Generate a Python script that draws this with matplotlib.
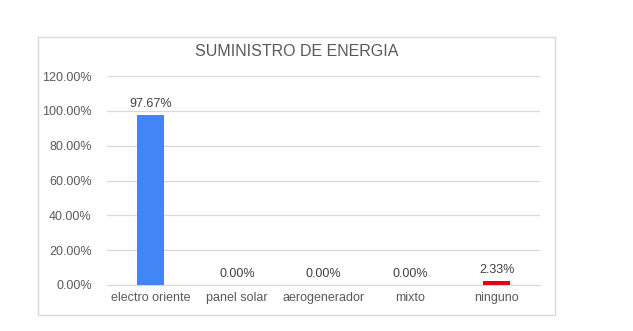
import numpy as np
import matplotlib
matplotlib.use("Agg")
import matplotlib.pyplot as plt
from matplotlib.patches import Rectangle
from matplotlib.ticker import FuncFormatter

plt.rcParams['font.family'] = ['Liberation Sans', 'DejaVu Sans']

categories = ['electro oriente', 'panel solar', 'aerogenerador', 'mixto', 'ninguno']
values = [0.9767, 0.0, 0.0, 0.0, 0.0233]
colors = ['#4285F4', '#4285F4', '#4285F4', '#4285F4', '#E8000B']

fig = plt.figure(figsize=(6.33, 3.31), dpi=100)
# chart border
fig.patches.append(Rectangle((0.06, 0.048), 0.817, 0.84, transform=fig.transFigure,
                             fill=False, edgecolor='#d9d9d9', linewidth=1))

ax = fig.add_axes([0.169, 0.139, 0.684, 0.631])
x = np.arange(len(categories))
bars = ax.bar(x, values, width=0.31, color=colors, zorder=3)

for xi, v in zip(x, values):
    ax.text(xi, v + 0.03, f'{v * 100:.2f}%', ha='center', va='bottom',
            fontsize=9, color='#404040')

ax.set_ylim(0, 1.2)
ax.set_xlim(-0.5, len(categories) - 0.5)
ax.set_yticks(np.arange(0, 1.21, 0.2))
ax.yaxis.set_major_formatter(FuncFormatter(lambda v, p: f'{v * 100:.2f}%'))
ax.set_xticks(x)
ax.set_xticklabels(categories)
ax.tick_params(axis='both', length=0, labelsize=9, labelcolor='#595959')
ax.tick_params(axis='y', pad=11)
ax.tick_params(axis='x', pad=5)
ax.grid(axis='y', color='#d9d9d9', linewidth=0.9, zorder=0)
for s in ['top', 'right', 'left']:
    ax.spines[s].set_visible(False)
ax.spines['bottom'].set_color('#d9d9d9')

fig.text(0.468, 0.845, 'SUMINISTRO DE ENERGIA', ha='center', va='center',
         fontsize=11.5, color='#595959')

fig.savefig('out.png', dpi=100)
